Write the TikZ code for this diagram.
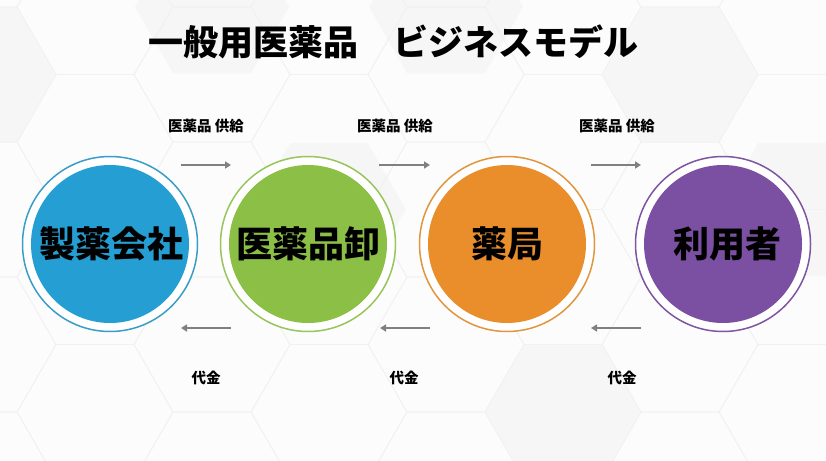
\documentclass[tikz,border=0pt]{standalone}
\usepackage{fontspec}
\newfontfamily\jp{Noto Sans CJK JP}
\usetikzlibrary{arrows.meta}
\definecolor{bgc}{HTML}{FCFCFC}
\definecolor{hexc}{HTML}{F1F1F1}
\definecolor{hexf}{HTML}{F6F6F6}
\definecolor{arrc}{HTML}{808080}
\definecolor{blueF}{HTML}{259FD3}
\definecolor{blueR}{HTML}{3A9DC8}
\definecolor{greenF}{HTML}{8BBF45}
\definecolor{greenR}{HTML}{98C55C}
\definecolor{orangeF}{HTML}{E98E2B}
\definecolor{orangeR}{HTML}{E0963C}
\definecolor{purpleF}{HTML}{7B4FA2}
\definecolor{purpleR}{HTML}{7D55A3}
\tikzset{
  ring/.style={circle, draw=#1, line width=1.5pt, fill=white, minimum size=175pt, inner sep=0pt},
  disc/.style={circle, fill=#1, minimum size=158pt, inner sep=0pt},
  bigtext/.style={font=\jp\bfseries\fontsize{36}{40}\selectfont, text=black},
  smalltext/.style={font=\jp\bfseries\fontsize{14.5}{17}\selectfont, text=black},
  titletext/.style={font=\jp\bfseries\fontsize{35}{40}\selectfont, text=black},
  flow/.style={draw=arrc, line width=1.7pt, -{Triangle[length=6pt,width=7pt]}},
  hexline/.style={draw=hexc, line width=0.7pt},
}
\begin{document}
\begin{tikzpicture}[x=1pt,y=-1pt]
\useasboundingbox (0,0) rectangle (826,460);
\fill[bgc] (0,0) rectangle (826,460);
% faint honeycomb background
\begin{scope}
\clip (0,0) rectangle (826,460);
\foreach \cx/\cy in {-22/74.5, 212/7, 446/7, 680/74.5, 329/209.5, 563/412, 797/209.5}{
  \fill[hexf] (\cx+77,\cy) -- (\cx+38.5,\cy+66.7) -- (\cx-38.5,\cy+66.7) -- (\cx-77,\cy) -- (\cx-38.5,\cy-66.7) -- (\cx+38.5,\cy-66.7) -- cycle;
}
\foreach \i in {0,...,8}{
  \foreach \j in {-4,...,1}{
    \pgfmathsetmacro{\cx}{-22+117*\i}
    \pgfmathsetmacro{\cy}{412-67.5*(1-mod(\i,2))+135*\j}
    \draw[hexline] (\cx+78,\cy) -- (\cx+39,\cy+67.55) -- (\cx-39,\cy+67.55) -- (\cx-78,\cy) -- (\cx-39,\cy-67.55) -- (\cx+39,\cy-67.55) -- cycle;
  }
}
\end{scope}
% title
\node[titletext] (title) at (393,42) {一般用医薬品　ビジネスモデル};
% circles
\node[ring=blueR] (r1) at (110,244) {};
\node[disc=blueF] (c1) at (r1.center) {};
\node[bigtext] (t1) at (111,244) {製薬会社};
\node[ring=greenR] (r2) at (308,244) {};
\node[disc=greenF] (c2) at (r2.center) {};
\node[bigtext] (t2) at (308,244) {医薬品卸};
\node[ring=orangeR] (r3) at (507,244) {};
\node[disc=orangeF] (c3) at (r3.center) {};
\node[bigtext] (t3) at (507,244) {薬局};
\node[ring=purpleR] (r4) at (723,244) {};
\node[disc=purpleF] (c4) at (r4.center) {};
\node[bigtext] (t4) at (727,244) {利用者};
% labels
\node[smalltext] (s1) at (206,126) {医薬品 供給};
\node[smalltext] (s2) at (395,126) {医薬品 供給};
\node[smalltext] (s3) at (617,126) {医薬品 供給};
\node[smalltext] (m1) at (206,378) {代金};
\node[smalltext] (m2) at (404,378) {代金};
\node[smalltext] (m3) at (622,378) {代金};
% arrow end points
\coordinate (a1s) at (181,165); \coordinate (a1e) at (231,165);
\coordinate (a2s) at (379,165); \coordinate (a2e) at (430,165);
\coordinate (a3s) at (591,165); \coordinate (a3e) at (641,165);
\coordinate (b1s) at (231,328); \coordinate (b1e) at (181,328);
\coordinate (b2s) at (430,328); \coordinate (b2e) at (380,328);
\coordinate (b3s) at (641,328); \coordinate (b3e) at (591,328);
\draw[flow] (a1s) -- (a1e);
\draw[flow] (a2s) -- (a2e);
\draw[flow] (a3s) -- (a3e);
\draw[flow] (b1s) -- (b1e);
\draw[flow] (b2s) -- (b2e);
\draw[flow] (b3s) -- (b3e);
\end{tikzpicture}
\end{document}
